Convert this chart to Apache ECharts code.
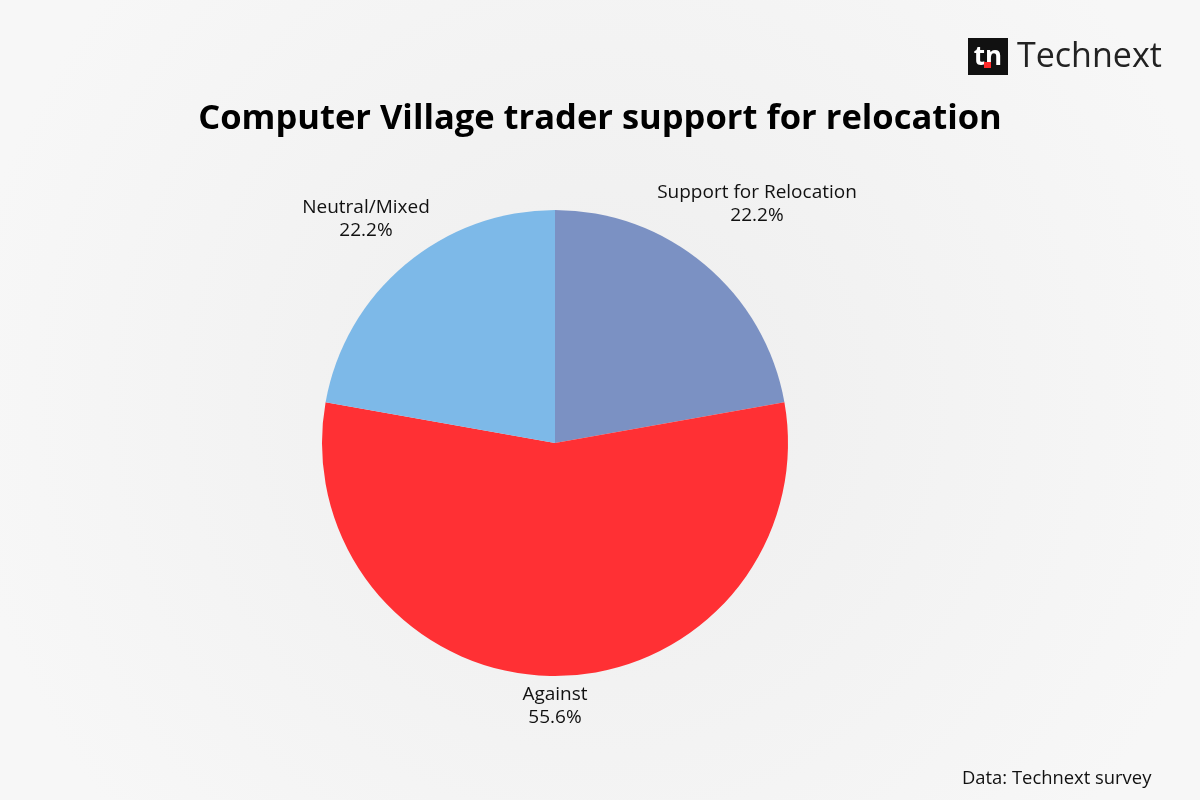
<!DOCTYPE html>
<html>
<head>
<meta charset="utf-8">
<script src="https://cdn.jsdelivr.net/npm/echarts@6/dist/echarts.min.js"></script>
<style>html,body{margin:0;padding:0;background:#f4f4f4;}#c{width:1200px;height:800px;}</style>
</head>
<body>
<div id="c"></div>
<script>
const categories = ['Support for Relocation', 'Against', 'Neutral/Mixed'];
const shares = [22.2, 55.6, 22.2];
const sliceColors = ['#7b91c3', '#ff3034', '#7db9e8'];

const chart = echarts.init(document.getElementById('c'), null, {renderer: 'canvas'});
const labelPos = [[757, 204], [555, 706], [366, 219]];
const option = {
  backgroundColor: {
    type: 'radial', x: 0.5, y: 0.5, r: 0.8,
    colorStops: [{offset: 0, color: '#eeeeee'}, {offset: 1, color: '#f7f7f7'}]
  },
  title: {
    text: 'Computer Village trader support for relocation',
    left: 'center', top: 97,
    textStyle: {fontFamily: 'Open Sans', fontWeight: 'bold', fontSize: 34.5, color: '#000'}
  },
  graphic: [
    {type: 'rect', shape: {x: 968, y: 38, width: 40, height: 37}, style: {fill: '#111'}},
    {type: 'text', x: 988, y: 58, style: {text: 'tn', fill: '#fff', font: 'bold 26px "Open Sans"', align: 'center', verticalAlign: 'middle'}},
    {type: 'rect', shape: {x: 984, y: 62, width: 7, height: 6}, style: {fill: '#ff2b2b'}},
    {type: 'text', x: 1017, y: 57, style: {text: 'Technext', fill: '#222', font: '400 34px "Open Sans"', verticalAlign: 'middle'}},
    {type: 'text', x: 962, y: 779, style: {text: 'Data: Technext survey', fill: '#111', font: '18.4px "Open Sans"', verticalAlign: 'middle'}}
  ],
  series: [{
    type: 'pie',
    center: [555, 443],
    radius: 233,
    startAngle: 90,
    clockwise: true,
    animation: false,
    data: categories.map((n, i) => ({name: n, value: shares[i], itemStyle: {color: sliceColors[i]}})),
    label: {
      show: true, position: 'outside',
      formatter: p => p.name + '\n' + shares[p.dataIndex].toFixed(1) + '%',
      fontFamily: 'Open Sans', fontSize: 19, lineHeight: 23, color: '#111', align: 'center'
    },
    labelLine: {show: false},
    labelLayout: p => ({x: labelPos[p.dataIndex][0], y: labelPos[p.dataIndex][1], align: 'center', verticalAlign: 'middle'})
  }]
};
chart.setOption(option);
</script>
</body>
</html>
